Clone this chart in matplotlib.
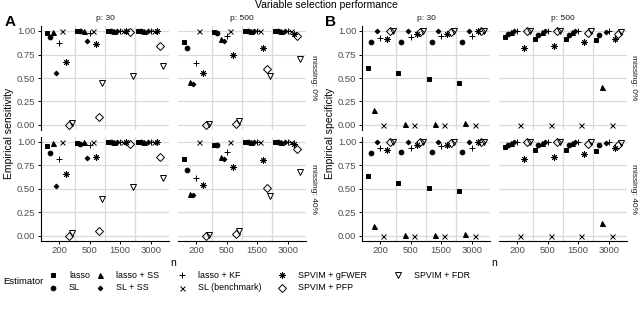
import numpy as np
import matplotlib
matplotlib.use('Agg')
import matplotlib.pyplot as plt
from matplotlib.lines import Line2D

plt.rcParams['font.family'] = ['Liberation Sans', 'DejaVu Sans']

##------------------------------------- DATA -------------------------------------
n_labels = ['200', '500', '1500', '3000']
estimators = ['lasso', 'SL', 'lasso + SS', 'SL + SS', 'lasso + KF',
              'SL (benchmark)', 'SPVIM + gFWER', 'SPVIM + PFP', 'SPVIM + FDR']

# rows = n (200, 500, 1500, 3000), columns = estimators in the order above
sens_p30_miss0 = [[0.98, 0.94, 0.99, 0.55, 0.87, 1.00, 0.67, 0.00, 0.02],
                  [1.00, 1.00, 1.00, 0.89, 0.98, 1.00, 0.86, 0.08, 0.45],
                  [1.00, 1.00, 1.00, 1.00, 1.00, 1.00, 1.00, 0.99, 0.52],
                  [1.00, 1.00, 1.00, 1.00, 1.00, 1.00, 1.00, 0.84, 0.63]]
sens_p500_miss0 = [[0.88, 0.82, 0.46, 0.44, 0.66, 1.00, 0.55, 0.00, 0.01],
                   [0.99, 0.98, 0.91, 0.89, 0.95, 1.00, 0.75, 0.01, 0.04],
                   [1.00, 1.00, 1.00, 1.00, 1.00, 1.00, 0.82, 0.60, 0.52],
                   [1.00, 1.00, 1.00, 1.00, 1.00, 1.00, 0.97, 0.95, 0.70]]
sens_p30_miss40 = [[0.95, 0.88, 0.99, 0.53, 0.82, 1.00, 0.66, 0.00, 0.03],
                   [0.99, 0.98, 1.00, 0.83, 0.96, 1.00, 0.84, 0.05, 0.39],
                   [1.00, 1.00, 1.00, 1.00, 1.00, 1.00, 1.00, 0.98, 0.52],
                   [1.00, 1.00, 1.00, 1.00, 1.00, 1.00, 1.00, 0.84, 0.62]]
sens_p500_miss40 = [[0.82, 0.70, 0.45, 0.44, 0.61, 1.00, 0.54, 0.00, 0.01],
                    [0.97, 0.96, 0.84, 0.82, 0.89, 1.00, 0.73, 0.02, 0.05],
                    [1.00, 1.00, 1.00, 1.00, 1.00, 1.00, 0.81, 0.51, 0.42],
                    [1.00, 1.00, 1.00, 1.00, 1.00, 1.00, 0.98, 0.92, 0.68]]

spec_p30_miss0 = [[0.61, 0.88, 0.16, 1.00, 0.93, 0.00, 0.92, 1.00, 1.00],
                  [0.55, 0.88, 0.01, 1.00, 0.94, 0.00, 0.97, 0.99, 1.00],
                  [0.49, 0.88, 0.01, 1.00, 0.95, 0.00, 0.97, 0.99, 1.00],
                  [0.45, 0.88, 0.02, 1.00, 0.95, 0.00, 1.00, 1.00, 1.00]]
spec_p500_miss0 = [[0.94, 0.97, 0.99, 1.00, 1.00, 0.00, 0.82, 1.00, 1.00],
                   [0.91, 0.96, 0.99, 1.00, 1.00, 0.00, 0.84, 1.00, 1.00],
                   [0.91, 0.96, 0.99, 1.00, 1.00, 0.00, 0.88, 0.98, 1.00],
                   [0.90, 0.96, 0.40, 0.99, 1.00, 0.00, 0.92, 0.97, 0.99]]
spec_p30_miss40 = [[0.64, 0.88, 0.11, 1.00, 0.93, 0.00, 0.91, 1.00, 1.00],
                   [0.56, 0.89, 0.01, 1.00, 0.93, 0.00, 0.96, 1.00, 1.00],
                   [0.51, 0.89, 0.01, 1.00, 0.95, 0.00, 0.97, 0.99, 1.00],
                   [0.48, 0.89, 0.02, 1.00, 0.93, 0.00, 1.00, 1.00, 1.00]]
spec_p500_miss40 = [[0.94, 0.97, 0.99, 1.00, 1.00, 0.00, 0.82, 1.00, 1.00],
                    [0.91, 0.96, 0.99, 1.00, 1.00, 0.00, 0.84, 1.00, 1.00],
                    [0.91, 0.96, 0.99, 1.00, 1.00, 0.00, 0.87, 0.98, 1.00],
                    [0.90, 0.96, 0.14, 0.99, 1.00, 0.00, 0.93, 0.97, 0.99]]

##------------------------------------- STYLE -------------------------------------
# marker, size, filled
styles = [('s', 3.0, True), ('o', 3.4, True), ('^', 3.6, True), ('D', 2.4, True),
          ('+', 5.0, False), ('x', 3.6, False), ((8, 2, 0), 4.6, False),
          ('D', 3.8, False), ('v', 4.2, False)]
grid_col = '#dadada'
W, H = 640, 311
legend_key_x = [53, 100, 182, 282, 398]   # legend column positions (px)
legend_row_y = [275, 288]

def px_axes(fig, x0, x1, y0, y1):
    return fig.add_axes([x0 / W, 1 - y1 / H, (x1 - x0) / W, (y1 - y0) / H])

def draw_facet(ax, data, left, bottom):
    data = np.array(data)
    xs = np.arange(1, 5)
    for k, (m, ms, filled) in enumerate(styles):
        off = (k - 4) * 0.102
        ax.plot(xs + off, data[:, k], linestyle='none', marker=m, ms=ms,
                color='black', mfc='black' if filled else 'none', mew=0.7,
                clip_on=False, zorder=3)
    ax.set_xlim(0.4, 4.6)
    ax.set_ylim(-0.05, 1.05)
    for y in [0, 0.25, 0.5, 0.75, 1.0]:
        ax.axhline(y, color=grid_col, lw=0.9, zorder=1)
    for x in [1.5, 2.5, 3.5]:
        ax.axvline(x, color=grid_col, lw=0.9, zorder=1)
    for s in ['top', 'right']:
        ax.spines[s].set_visible(False)
    ax.spines['left'].set_visible(left)
    ax.spines['bottom'].set_visible(bottom)
    for s in ['left', 'bottom']:
        ax.spines[s].set_linewidth(0.8)
    ax.set_yticks([0, 0.25, 0.5, 0.75, 1.0])
    ax.set_xticks(xs)
    if left:
        ax.set_yticklabels(['0.00', '0.25', '0.50', '0.75', '1.00'])
    else:
        ax.set_yticklabels([])
    if bottom:
        ax.set_xticklabels(n_labels)
    else:
        ax.set_xticklabels([])
    ax.tick_params(axis='y', length=2.5 if left else 0, width=0.7,
                   labelsize=6.8, labelcolor='#4d4d4d', pad=1.5)
    ax.tick_params(axis='x', length=2.5 if bottom else 0, width=0.7,
                   labelsize=6.8, labelcolor='#4d4d4d', pad=1.5)
    ax.patch.set_alpha(0)

##------------------------------------- MAIN PROGRAM -------------------------------------
fig = plt.figure(figsize=(W / 100, H / 100), dpi=100)

rows = [(26.3, 129.7), (137.0, 240.7)]
panels = [
    ('A', 'Empirical sensitivity', [(41, 169), (178, 306)],
     [[sens_p30_miss0, sens_p500_miss0], [sens_p30_miss40, sens_p500_miss40]]),
    ('B', 'Empirical specificity', [(362, 490), (499, 627)],
     [[spec_p30_miss0, spec_p500_miss0], [spec_p30_miss40, spec_p500_miss40]]),
]
for letter, ylab, cols, grid in panels:
    for r, (y0, y1) in enumerate(rows):
        for c, (x0, x1) in enumerate(cols):
            ax = px_axes(fig, x0, x1, y0, y1)
            draw_facet(ax, grid[r][c], left=(c == 0), bottom=(r == 1))
            if r == 0:
                fig.text((x0 + x1) / 2 / W, 1 - 19 / H, ['p: 30', 'p: 500'][c],
                         ha='center', va='center', fontsize=6, color='#1a1a1a')
        fig.text((cols[1][1] + 7) / W, 1 - (y0 + y1) / 2 / H,
                 ['missing: 0%', 'missing: 40%'][r], rotation=-90,
                 ha='center', va='center', fontsize=6, color='#1a1a1a')
    fig.text((cols[0][0] - 32) / W, 1 - 133 / H, ylab, rotation=90,
             ha='center', va='center', fontsize=7.5)
    fig.text((cols[0][0] + cols[1][1]) / 2 / W, 1 - 263 / H, 'n',
             ha='center', va='center', fontsize=7.5)
    fig.text((cols[0][0] - 31) / W, 1 - 22 / H, letter, ha='center',
             va='center', fontsize=11, fontweight='bold')

fig.text(326 / W, 1 - 4.5 / H, 'Variable selection performance', ha='center',
         va='center', fontsize=7.5)

# legend: two rows, filled column by column
fig.text(3 / W, 1 - 282 / H, 'Estimator', ha='left', va='center', fontsize=6.8)
for k, ((m, ms, filled), lab) in enumerate(zip(styles, estimators)):
    kx = legend_key_x[k // 2]
    ky = legend_row_y[k % 2]
    fig.add_artist(Line2D([kx / W], [1 - ky / H], transform=fig.transFigure,
                          linestyle='none', marker=m, ms=ms, color='black',
                          mfc='black' if filled else 'none', mew=0.7))
    fig.text((kx + 16) / W, 1 - ky / H, lab, ha='left', va='center', fontsize=6.4)

fig.savefig('out.png', dpi=100)
